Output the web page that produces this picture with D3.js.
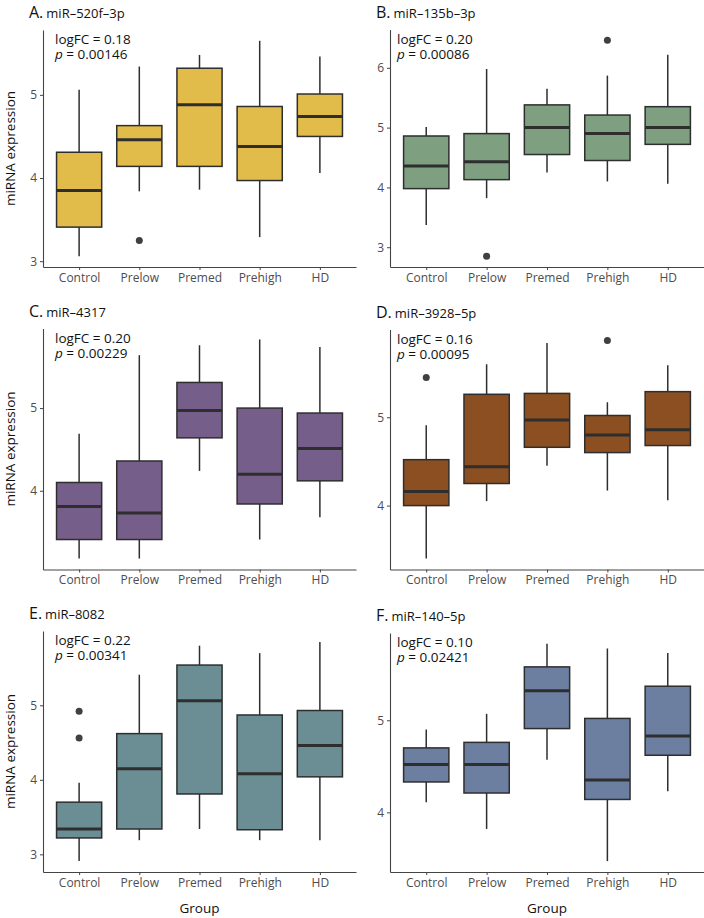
<!DOCTYPE html>
<html>
<head>
<meta charset="utf-8">
<title>miRNA expression by group</title>
<script src="https://cdn.jsdelivr.net/npm/d3@7"></script>
<style>
  body { margin: 0; background: #fff; }
  svg { font-family: "Open Sans", sans-serif; }
  .tick text { fill: #4d4d4d; font-size: 12px; font-family: "Open Sans", sans-serif; }
  .tick line { stroke: #444; }
  .domain { stroke: #444; }
</style>
</head>
<body>
<script>
// groups on the x axis
const groups = ["Control", "Prelow", "Premed", "Prehigh", "HD"];

const panelLetters = ["A.", "B.", "C.", "D.", "E.", "F."];
const mirnaNames = ["miR–520f–3p", "miR–135b–3p", "miR–4317", "miR–3928–5p", "miR–8082", "miR–140–5p"];
const logFCs = ["0.18", "0.20", "0.20", "0.16", "0.22", "0.10"];
const pValues = ["0.00146", "0.00086", "0.00229", "0.00095", "0.00341", "0.02421"];

// five-number summaries per group: [lower whisker, q1, median, q3, upper whisker]
const boxA = [[3.06, 3.41, 3.85, 4.31, 5.06], [3.84, 4.14, 4.46, 4.63, 5.34], [3.86, 4.14, 4.88, 5.32, 5.48], [3.29, 3.97, 4.38, 4.86, 5.65], [4.06, 4.50, 4.74, 5.01, 5.46]];
const boxB = [[3.37, 3.98, 4.36, 4.86, 5.01], [3.82, 4.13, 4.43, 4.90, 5.98], [4.25, 4.55, 5.00, 5.38, 5.65], [4.10, 4.45, 4.90, 5.21, 5.87], [4.06, 4.72, 5.00, 5.35, 6.22]];
const boxC = [[3.18, 3.41, 3.81, 4.10, 4.69], [3.18, 3.41, 3.73, 4.36, 5.64], [4.24, 4.64, 4.97, 5.31, 5.76], [3.41, 3.84, 4.20, 5.00, 5.83], [3.68, 4.12, 4.51, 4.94, 5.74]];
const boxD = [[3.40, 4.00, 4.16, 4.52, 4.91], [4.05, 4.25, 4.44, 5.26, 5.60], [4.45, 4.66, 4.97, 5.27, 5.84], [4.17, 4.60, 4.80, 5.02, 5.17], [4.06, 4.68, 4.86, 5.29, 5.59]];
const boxE = [[2.91, 3.22, 3.34, 3.70, 3.96], [3.19, 3.34, 4.15, 4.62, 5.41], [3.34, 3.81, 5.06, 5.54, 5.80], [3.19, 3.33, 4.08, 4.87, 5.70], [3.19, 4.04, 4.46, 4.93, 5.85]];
const boxF = [[4.11, 4.33, 4.52, 4.70, 4.90], [3.82, 4.21, 4.52, 4.76, 5.07], [4.57, 4.91, 5.32, 5.58, 5.83], [3.47, 4.14, 4.35, 5.02, 5.78], [4.23, 4.62, 4.83, 5.37, 5.73]];

// outlying points per group
const outA = [[], [3.25], [], [], []];
const outB = [[], [2.85], [], [6.46], []];
const outC = [[], [], [], [], []];
const outD = [[5.45], [], [], [5.87], []];
const outE = [[4.92, 4.56], [], [], [], []];
const outF = [[], [], [], [], []];

const boxColors = ["#E2BC4A", "#7E9F80", "#755F8A", "#8B4F22", "#6A8E94", "#6C7FA1"];

const boxes = [boxA, boxB, boxC, boxD, boxE, boxF];
const outliers = [outA, outB, outC, outD, outE, outF];

// panel placement
const layout = [
  { x0: 43, x1: 356, y0: 30, y1: 267, ax: 55 },
  { x0: 390, x1: 704, y0: 29.5, y1: 267, ax: 397 },
  { x0: 43, x1: 356, y0: 328.5, y1: 569.5, ax: 55 },
  { x0: 390, x1: 704, y0: 329.5, y1: 569.5, ax: 397 },
  { x0: 43, x1: 356, y0: 631, y1: 872, ax: 55 },
  { x0: 390, x1: 704, y0: 633, y1: 872, ax: 397 }
];

const svg = d3.select("body").append("svg")
  .attr("width", 704)
  .attr("height", 918);

svg.append("rect").attr("width", 704).attr("height", 918).attr("fill", "#fff");

layout.forEach((L, i) => {
  const g = svg.append("g");
  const stats = boxes[i];
  const outs = outliers[i];

  const x = d3.scalePoint()
    .domain(groups)
    .range([L.x0, L.x1])
    .padding(0.6);

  const allVals = stats.flat().concat(outs.flat());
  const [lo, hi] = d3.extent(allVals);
  const pad = (hi - lo) * 0.05;
  const y = d3.scaleLinear()
    .domain([lo - pad, hi + pad])
    .range([L.y1, L.y0]);

  const yTicks = d3.range(Math.ceil(lo - pad), Math.floor(hi + pad) + 1);

  g.append("g")
    .attr("transform", `translate(${L.x0},0)`)
    .call(d3.axisLeft(y).tickValues(yTicks).tickFormat(d3.format("d")).tickSize(3).tickSizeOuter(0).tickPadding(3));

  g.append("g")
    .attr("transform", `translate(0,${L.y1})`)
    .call(d3.axisBottom(x).tickSize(3).tickSizeOuter(0).tickPadding(3));

  g.selectAll(".domain").attr("stroke-width", 1.1);

  const bw = x.step() * 0.75;

  const box = g.selectAll(".box")
    .data(stats.map((s, j) => ({ g: groups[j], s })))
    .join("g")
    .attr("class", "box");

  // whiskers
  box.append("line")
    .attr("x1", d => x(d.g)).attr("x2", d => x(d.g))
    .attr("y1", d => y(d.s[0])).attr("y2", d => y(d.s[1]))
    .attr("stroke", "#2e2e2e").attr("stroke-width", 1.5);
  box.append("line")
    .attr("x1", d => x(d.g)).attr("x2", d => x(d.g))
    .attr("y1", d => y(d.s[3])).attr("y2", d => y(d.s[4]))
    .attr("stroke", "#2e2e2e").attr("stroke-width", 1.5);

  box.append("rect")
    .attr("x", d => x(d.g) - bw / 2)
    .attr("width", bw)
    .attr("y", d => y(d.s[3]))
    .attr("height", d => y(d.s[1]) - y(d.s[3]))
    .attr("fill", boxColors[i])
    .attr("stroke", "#2e2e2e")
    .attr("stroke-width", 1.5);

  box.append("line")
    .attr("x1", d => x(d.g) - bw / 2).attr("x2", d => x(d.g) + bw / 2)
    .attr("y1", d => y(d.s[2])).attr("y2", d => y(d.s[2]))
    .attr("stroke", "#2e2e2e").attr("stroke-width", 3);

  // outliers
  const pts = [];
  outs.forEach((arr, j) => arr.forEach(v => pts.push({ g: groups[j], v })));
  g.selectAll(".out")
    .data(pts)
    .join("circle")
    .attr("cx", d => x(d.g))
    .attr("cy", d => y(d.v))
    .attr("r", 3.5)
    .attr("fill", "#404040");

  // panel title
  const t = g.append("text")
    .attr("x", L.x0 - 14)
    .attr("y", L.y0 - 12)
    .attr("fill", "#111");
  t.append("tspan").attr("font-size", 16).text(panelLetters[i]);
  t.append("tspan").attr("font-size", 13).attr("dx", 3).text(mirnaNames[i]);

  // logFC / p annotation, one text block
  const a = g.append("text")
    .attr("x", L.ax).attr("y", L.y0 + 14)
    .attr("font-size", 13.5).attr("fill", "#111");
  a.append("tspan").attr("x", L.ax).text(`logFC = ${logFCs[i]}`);
  a.append("tspan").attr("x", L.ax).attr("dy", 15).attr("font-style", "italic").text("p");
  a.append("tspan").text(` = ${pValues[i]}`);

  // y axis title for left column
  if (i % 2 === 0) {
    g.append("text")
      .attr("transform", `translate(15,${(L.y0 + L.y1) / 2}) rotate(-90)`)
      .attr("text-anchor", "middle")
      .attr("font-size", 13.5)
      .attr("fill", "#111")
      .text("miRNA expression");
  }
  // x axis title for bottom row
  if (i >= 4) {
    g.append("text")
      .attr("x", (L.x0 + L.x1) / 2)
      .attr("y", 913)
      .attr("text-anchor", "middle")
      .attr("font-size", 13.5)
      .attr("fill", "#111")
      .text("Group");
  }
});
</script>
</body>
</html>
